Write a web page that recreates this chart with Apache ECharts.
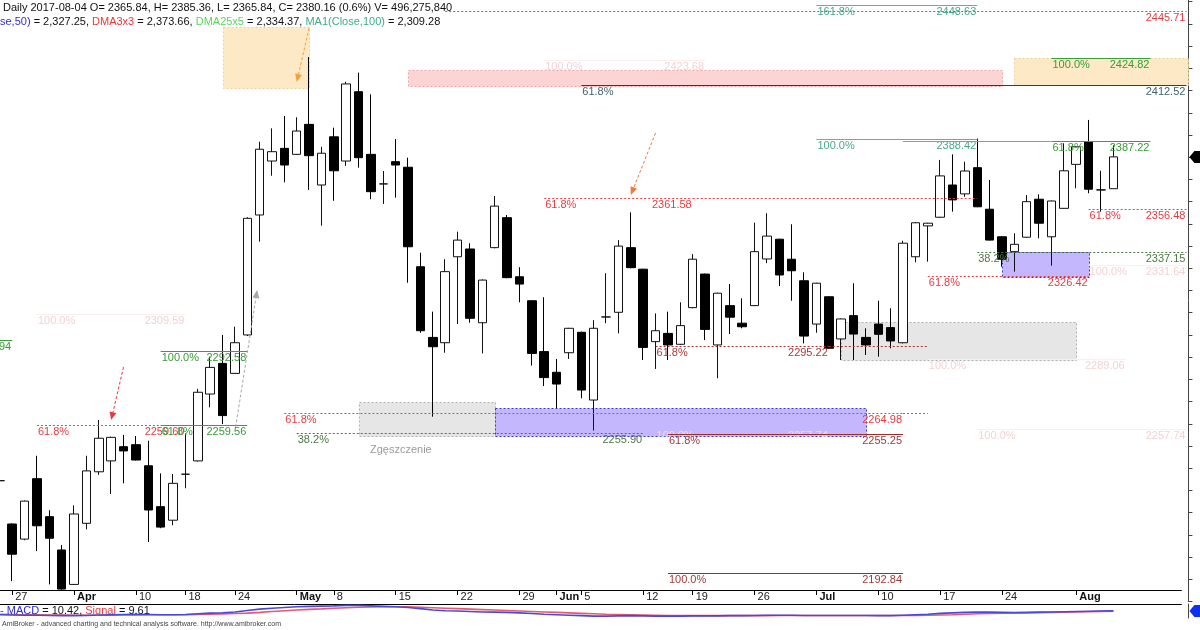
<!DOCTYPE html>
<html><head><meta charset="utf-8">
<script src="https://cdn.jsdelivr.net/npm/echarts@6/dist/echarts.min.js"></script>
<style>html,body{margin:0;padding:0;background:#fff}#c{width:1200px;height:630px}</style>
</head><body><div id="c"></div>
<script>
// ---------- DATA ----------
const dates = ['2017-03-24','2017-03-27','2017-03-28','2017-03-29','2017-03-30','2017-03-31','2017-04-03','2017-04-04','2017-04-05','2017-04-06','2017-04-07','2017-04-10','2017-04-11','2017-04-12','2017-04-13','2017-04-18','2017-04-19','2017-04-20','2017-04-21','2017-04-24','2017-04-25','2017-04-26','2017-04-27','2017-04-28','2017-05-02','2017-05-04','2017-05-05','2017-05-08','2017-05-09','2017-05-10','2017-05-11','2017-05-12','2017-05-15','2017-05-16','2017-05-17','2017-05-18','2017-05-19','2017-05-22','2017-05-23','2017-05-24','2017-05-25','2017-05-26','2017-05-29','2017-05-30','2017-05-31','2017-06-01','2017-06-02','2017-06-05','2017-06-06','2017-06-07','2017-06-08','2017-06-09','2017-06-12','2017-06-13','2017-06-14','2017-06-16','2017-06-19','2017-06-20','2017-06-21','2017-06-22','2017-06-23','2017-06-26','2017-06-27','2017-06-28','2017-06-29','2017-06-30','2017-07-03','2017-07-04','2017-07-05','2017-07-06','2017-07-07','2017-07-10','2017-07-11','2017-07-12','2017-07-13','2017-07-14','2017-07-17','2017-07-18','2017-07-19','2017-07-20','2017-07-21','2017-07-24','2017-07-25','2017-07-26','2017-07-27','2017-07-28','2017-07-31','2017-08-01','2017-08-02','2017-08-03','2017-08-04'];
const futureDates = ['2017-08-07','2017-08-08','2017-08-09','2017-08-10','2017-08-11'];

const open = [
 2234.4,2214.9,2208.1,2235.3,2218.2,2203.2,2187.7,2215.2,2238.4,2243.3,
 2249.7,2250.6,2241.1,2222.7,2216.6,2237.3,2243.3,2273.4,2287.2,2282.7,
 2300.0,2354.0,2378.3,2384.0,2381.3,2394.8,2367.5,2389.2,2378.3,2409.5,
 2381.3,2368.0,2378.0,2375.5,2330.7,2298.9,2296.5,2335.2,2338.7,2305.5,
 2339.3,2352.8,2326.2,2315.4,2292.5,2283.2,2292.0,2301.2,2270.7,2308.1,
 2310.2,2339.3,2329.6,2297.0,2300.7,2295.8,2312.3,2327.4,2295.5,2313.2,
 2305.3,2313.2,2334.2,2343.1,2334.1,2324.4,2304.9,2317.2,2298.2,2308.7,
 2298.9,2304.9,2303.3,2296.5,2335.2,2349.1,2353.0,2367.5,2363.5,2375.3,
 2356.6,2344.2,2337.5,2344.0,2361.1,2344.2,2357.0,2376.8,2387.0,2365.3,
 2365.84];
const high = [
 2240.0,2215.2,2225.5,2245.6,2221.1,2205.4,2223.3,2245.6,2261.7,2254.2,
 2255.0,2254.5,2252.4,2237.7,2237.4,2255.7,2275.7,2290.2,2300.0,2303.7,
 2353.0,2387.0,2393.0,2398.6,2398.0,2425.1,2384.7,2393.3,2414.0,2418.1,
 2408.3,2373.8,2388.2,2379.8,2337.0,2310.5,2334.1,2346.5,2341.3,2325.0,
 2362.6,2354.0,2330.5,2315.6,2317.0,2289.2,2303.2,2301.5,2306.7,2327.8,
 2342.7,2355.2,2329.8,2309.7,2310.5,2314.7,2336.4,2327.6,2319.0,2322.9,
 2316.5,2350.5,2354.8,2343.3,2349.8,2328.2,2323.5,2317.4,2307.4,2323.3,
 2303.0,2315.4,2312.0,2342.4,2350.8,2350.5,2378.8,2381.3,2378.0,2388.4,
 2369.8,2344.5,2345.8,2363.0,2363.3,2360.5,2386.3,2385.0,2396.8,2373.9,
 2385.36];
const low = [
 2228.0,2189.2,2207.6,2202.7,2187.7,2185.3,2187.5,2212.5,2237.0,2228.4,
 2233.2,2243.5,2206.8,2213.0,2214.3,2231.0,2243.0,2267.4,2259.9,2282.5,
 2299.5,2342.0,2371.7,2368.7,2381.0,2365.3,2349.2,2360.4,2376.1,2375.3,
 2361.1,2359.0,2361.8,2323.5,2301.0,2263.2,2292.0,2304.9,2305.5,2291.7,
 2339.0,2325.5,2314.7,2286.2,2277.0,2267.0,2289.2,2271.5,2257.0,2305.3,
 2300.7,2330.0,2288.7,2284.7,2288.7,2295.5,2312.0,2297.7,2280.5,2300.4,
 2303.0,2313.0,2332.3,2322.0,2315.4,2296.2,2301.0,2293.8,2288.7,2288.7,
 2291.0,2290.2,2294.0,2296.2,2332.7,2333.0,2352.7,2355.5,2362.2,2357.5,
 2342.5,2330.7,2328.5,2343.8,2343.5,2331.2,2356.8,2366.0,2363.8,2355.5,
 2365.84];
const close = [
 2234.4,2201.3,2225.2,2214.1,2208.5,2185.6,2219.4,2238.8,2253.5,2253.9,
 2247.8,2243.7,2221.2,2213.5,2233.2,2237.3,2274.2,2285.4,2263.7,2296.5,
 2352.5,2383.6,2382.5,2376.5,2391.8,2380.7,2381.8,2373.9,2413.0,2379.8,
 2364.5,2368.0,2376.5,2339.7,2301.9,2294.7,2328.5,2342.7,2307.5,2324.7,
 2358.0,2325.8,2322.9,2291.7,2280.8,2277.9,2303.0,2275.2,2303.0,2308.1,
 2340.0,2330.3,2294.4,2301.9,2295.5,2304.2,2334.1,2302.5,2318.8,2308.0,
 2303.7,2337.5,2344.5,2327.0,2328.9,2299.5,2323.3,2294.0,2307.2,2300.4,
 2295.5,2300.3,2297.3,2341.3,2350.5,2350.3,2371.6,2360.8,2373.8,2357.7,
 2342.7,2334.1,2340.8,2360.0,2350.3,2360.3,2373.9,2384.7,2365.6,2365.3,
 2380.16];

const macd = [
 -6,-7,-8,-8,-9,-10,-10,-9,-7,-6,
 -5,-4,-5,-6,-6,-5,-2,1,2,6,
 12,18,22,25,28,30,31,32,34,34,
 32,30,28,25,20,14,11,10,8,6,
 5,4,2,-1,-4,-6,-8,-10,-12,-12,
 -11,-10,-11,-12,-12,-12,-11,-11,-11,-10,
 -10,-9,-8,-8,-8,-9,-9,-9,-9,-9,
 -9,-10,-10,-8,-6,-4,0,2,4,5,
 5,4,3,4,5,6,7,8,9,10,
 10.42];
const signal = [
 -4,-5,-6,-6,-7,-7,-8,-8,-8,-8,
 -7,-7,-6,-6,-6,-6,-5,-4,-3,-1,
 1,4,8,11,14,17,19,22,24,26,
 27,28,28,28,26,24,22,20,18,16,
 14,12,10,8,6,4,2,0,-2,-4,
 -5,-6,-7,-8,-9,-10,-10,-10,-10,-10,
 -10,-10,-10,-9,-9,-9,-9,-9,-9,-9,
 -9,-9,-9,-9,-9,-8,-7,-6,-4,-2,
 0,1,2,2,3,4,5,6,7,8.5,
 9.61];

const tickLabels = {'2017-03-27':'27','2017-04-03':'Apr','2017-04-10':'10','2017-04-18':'18','2017-04-24':'24','2017-05-02':'May','2017-05-08':'8','2017-05-15':'15','2017-05-22':'22','2017-05-29':'29','2017-06-01':'Jun','2017-06-05':'5','2017-06-12':'12','2017-06-19':'19','2017-06-26':'26','2017-07-03':'Jul','2017-07-10':'10','2017-07-17':'17','2017-07-24':'24','2017-08-01':'Aug'};
const monthNames = ['Apr','May','Jun','Jul','Aug'];

// [price, fromDate, toDate|'edge', leftText, rightText, kind]
const fibLevels = [
 [2448.63,'2017-07-03','2017-07-20','161.8%','2448.63','teal'],
 [2445.71,'2017-05-19','edge','','2445.71','red'],
 [2424.82,'2017-07-28','2017-08-09','100.0%','2424.82','green'],
 [2423.68,'2017-05-31','2017-06-20','100.0%','2423.68','faint'],
 [2412.52,'2017-06-05','edge','61.8%','2412.52','slate'],
 [2388.42,'2017-07-03','2017-07-20','100.0%','2388.42','teal'],
 [2387.50,'2017-07-12','2017-07-28','','','magenta'],
 [2387.22,'2017-07-28','2017-08-09','61.8%','2387.22','green'],
 [2361.58,'2017-05-31','2017-06-19','61.8%','2361.58','red'],
 [2361.58,'2017-06-19','2017-07-20','','','red'],
 [2356.48,'2017-08-02','edge','61.8%','2356.48','red'],
 [2337.15,'2017-07-20','edge','38.2%','2337.15','olive'],
 [2331.64,'2017-08-02','edge','100.0%','2331.64','faint'],
 [2326.42,'2017-07-14','2017-08-02','61.8%','2326.42','red'],
 [2309.59,'2017-03-29','2017-04-18','100.0%','2309.59','faint'],
 [2297.94,'2017-03-24','2017-03-27','','2297.94','green'],
 [2295.22,'2017-06-13','2017-07-04','61.8%','2295.22','maroon'],
 [2295.22,'2017-07-04','2017-07-14','','','maroon'],
 [2292.58,'2017-04-12','2017-04-25','100.0%','2292.58','green'],
 [2289.06,'2017-07-14','2017-08-07','100.0%','2289.06','faint'],
 [2264.98,'2017-04-28','2017-07-12','61.8%','2264.98','red'],
 [2264.98,'2017-07-12','2017-07-14','','','red'],
 [2259.60,'2017-03-29','2017-04-18','61.8%','2259.60','red'],
 [2259.56,'2017-04-12','2017-04-25','61.8%','2259.56','green'],
 [2257.74,'2017-07-20','edge','100.0%','2257.74','faint'],
 [2257.74,'2017-06-13','2017-07-04','100.0%','2257.74','ghost'],
 [2255.90,'2017-05-02','2017-06-12','38.2%','2255.90','olive'],
 [2255.25,'2017-06-14','2017-07-12','61.8%','2255.25','maroonSolid'],
 [2192.84,'2017-06-14','2017-07-12','100.0%','2192.84','maroonSolid']
];

// [fromDate, toDate|'edge', topPrice, bottomPrice, kind]
const zones = [
 ['2017-04-21','2017-05-04',2438.6,2411.2,'orange'],
 ['2017-05-16','2017-07-24',2419.3,2412.1,'pink'],
 ['2017-07-25','edge',2424.82,2412.52,'orange'],
 ['2017-07-24','2017-08-02',2337.15,2326.0,'purple'],
 ['2017-07-05','2017-08-01',2305.7,2288.5,'gray'],
 ['2017-05-10','2017-05-25',2269.9,2254.3,'gray'],
 ['2017-05-25','2017-07-07',2267.0,2254.3,'purple']
];

// [[fromDate, price, dayOffset], [toDate, price, dayOffset], kind]
const arrows = [
 [['2017-04-07',2285.6,0],['2017-04-06',2261.7,0],'red'],
 [['2017-05-04',2438.2,0],['2017-05-02',2413.9,0],'orange'],
 [['2017-06-13',2390.9,0],['2017-06-09',2363.0,0],'orangeRed'],
 [['2017-04-24',2256.3,0],['2017-04-25',2320.2,0.8],'gray']
];

const notes = [['2017-05-11',2248.2,'Zgęszczenie']];

const volumeText = '496,275,840';
const changeText = '(0.6%)';
const indicators = [['se,50)','2,327.25','b'],['DMA3x3','2,373.66','r'],['DMA25x5','2,334.37','g'],['MA1(Close,100)','2,309.28','t']];
const macdLabel = ['MACD','10.42','Signal','9.61'];
const footer = 'AmiBroker - advanced charting and technical analysis software. http://www.amibroker.com';

// ---------- STYLES ----------
const FONT = '"Liberation Sans", Arial, sans-serif';
const kindStyle = {
 red:{line:'#e8454a',text:'#e53c41',dash:[2,2]},
 maroon:{line:'#a23535',text:'#a83a3a',dash:[2,2]},
 maroonSolid:{line:'#9b2d2d',text:'#a33a3a',dash:null},
 green:{line:'#3aa03a',text:'#3a9a3a',dash:null},
 olive:{line:'#4e7a45',text:'#4e7a45',dash:[2,2]},
 teal:{line:'#55b89e',text:'#4aa88c',dash:null},
 slate:{line:'#2f3f44',text:'#3b6470',dash:null},
 magenta:{line:'#d86ad8',text:'#d86ad8',dash:null},
 faint:{line:'#fbeeee',text:'#f3d3d3',dash:null},
 ghost:{line:null,text:'rgba(255,255,255,0.6)',dash:null}
};
const zoneStyle = {
 orange:{fill:'#fde9c6',stroke:'#ecd09c'},
 pink:{fill:'#fdd4d4',stroke:'#f0a4a4'},
 purple:{fill:'#c4b7fe',stroke:'#3b3bc8'},
 gray:{fill:'#e6e6e6',stroke:'#b0b0b0'}
};
const arrowColor = {red:'#e8393e',orange:'#f2a33a',orangeRed:'#f07a3a',gray:'#a8a8a8'};

const allDates = dates.concat(futureDates);
const dateIndex = {}; allDates.forEach((d,i)=>{dateIndex[d]=i;});
const xi = (d,off)=>dateIndex[d]+(off||0);
const crisp = v=>Math.round(v)+0.5;
const edgeX = cs=>cs.x+cs.width+5;

const frontItems = [];
fibLevels.forEach(f=>frontItems.push({t:'fib',f}));
arrows.forEach(a=>frontItems.push({t:'arrow',a}));
notes.forEach(n=>frontItems.push({t:'note',n}));
frontItems.push({t:'marker'});

function renderBack(params, api){
  const [a,b,pt,pb,k] = zones[params.dataIndex];
  const cs = params.coordSys, st = zoneStyle[k];
  const x1 = crisp(api.coord([xi(a),pt])[0]);
  const x2 = crisp(b==='edge' ? cs.x+cs.width+7 : api.coord([xi(b),pt])[0]);
  const y1 = crisp(api.coord([0,pt])[1]);
  const y2 = crisp(api.coord([0,pb])[1]);
  return {type:'rect',shape:{x:x1,y:y1,width:x2-x1,height:y2-y1},style:{fill:st.fill,stroke:st.stroke,lineWidth:1,lineDash:[2,2]}};
}

function renderFront(params, api){
  const it = frontItems[params.dataIndex];
  const cs = params.coordSys;
  if (it.t==='fib'){
    const [p,a,b,lt,rt,k] = it.f; const st = kindStyle[k];
    const y = crisp(api.coord([0,p])[1]);
    const x1 = api.coord([xi(a),p])[0];
    const x2 = b==='edge' ? edgeX(cs) : api.coord([xi(b),p])[0];
    const ch = [];
    if (st.line) ch.push({type:'line',shape:{x1:x1,y1:y,x2:x2,y2:y},style:{stroke:st.line,lineWidth:1,lineDash:st.dash}});
    if (lt) ch.push({type:'text',style:{text:lt,x:x1+1,y:y+1,fill:st.text,font:'11px '+FONT,align:'left',verticalAlign:'top'}});
    if (rt) ch.push({type:'text',style:{text:rt,x:x2-1,y:y+1,fill:st.text,font:'11px '+FONT,align:'right',verticalAlign:'top'}});
    return {type:'group',children:ch};
  }
  if (it.t==='arrow'){
    const [f,t,k] = it.a; const c = arrowColor[k];
    const p1 = api.coord([xi(f[0],f[2]),f[1]]);
    const p2 = api.coord([xi(t[0],t[2]),t[1]]);
    const ang = Math.atan2(p2[1]-p1[1],p2[0]-p1[0]);
    const L=8, W=3.5;
    const bx = p2[0]-L*Math.cos(ang), by = p2[1]-L*Math.sin(ang);
    return {type:'group',children:[
      {type:'line',shape:{x1:p1[0],y1:p1[1],x2:bx,y2:by},style:{stroke:c,lineWidth:1,lineDash:[3,2]}},
      {type:'polygon',shape:{points:[[p2[0],p2[1]],[bx+W*Math.sin(ang),by-W*Math.cos(ang)],[bx-W*Math.sin(ang),by+W*Math.cos(ang)]]},style:{fill:c}}
    ]};
  }
  if (it.t==='note'){
    const [d,p,txt] = it.n; const pt = api.coord([xi(d),p]);
    return {type:'text',style:{text:txt,x:pt[0]-1,y:pt[1],fill:'#9a9a9a',font:'11px '+FONT,align:'left',verticalAlign:'middle'}};
  }
  // last close marker on the price axis
  const y = api.coord([0,close[close.length-1]])[1];
  const x0 = cs.x+cs.width+7;
  return {type:'polygon',shape:{points:[[x0+1,y],[x0+6,y-6],[x0+13,y-6],[x0+13,y+6],[x0+6,y+6]]},style:{fill:'#000'}};
}

function renderMacdMarker(params, api){
  const cs = params.coordSys;
  const y = api.coord([macd.length-1, macd[macd.length-1]])[1];
  const x0 = cs.x+cs.width+7;
  return {type:'polygon',shape:{points:[[x0+1,y],[x0+6,y-6],[x0+13,y-6],[x0+13,y+6],[x0+6,y+6]]},style:{fill:'#1030f0'}};
}

const last = dates.length-1;
const headerLine = `Daily ${dates[last]} O= ${open[last]}, H= ${high[last]}, L= ${low[last]}, C= ${close[last]} ${changeText} V= ${volumeText}`;
const indLine = indicators.map((d,i)=>`{${d[2]}|${d[0]}}{k| = ${d[1]}${i<indicators.length-1?', ':''}}`).join('');

const GL = -6.39, GW = 1187.8;
const labelInterval = (i,v)=>!!tickLabels[v];

const option = {
  animation:false,
  backgroundColor:'#fff',
  textStyle:{fontFamily:FONT},
  title:[
    {text:headerLine,left:3,top:1,padding:0,textStyle:{fontSize:11,fontWeight:'normal',color:'#111',fontFamily:FONT,lineHeight:13}},
    {text:indLine,left:0,top:15,padding:0,textStyle:{fontSize:11,fontWeight:'normal',color:'#111',fontFamily:FONT,lineHeight:13,
      rich:{b:{color:'#3030cc',fontSize:11},r:{color:'#f03535',fontSize:11},g:{color:'#5ad85a',fontSize:11},t:{color:'#3faa88',fontSize:11},k:{color:'#111',fontSize:11}}}},
    {text:`{b|- ${macdLabel[0]}}{k| = ${macdLabel[1]}, }{r|${macdLabel[2]}}{k| = ${macdLabel[3]}}`,left:0,top:605,padding:0,
      textStyle:{fontSize:11,fontWeight:'normal',fontFamily:FONT,lineHeight:12,rich:{b:{color:'#2a2ad8',fontSize:11},r:{color:'#e83a3a',fontSize:11},k:{color:'#111',fontSize:11}}}},
    {text:footer,left:2,top:621,padding:0,textStyle:{fontSize:7,fontWeight:'normal',color:'#444',fontFamily:FONT}}
  ],
  grid:[
    {left:GL,width:GW,top:-20.47,height:621.99,outerBoundsMode:'none',containLabel:false},
    {left:GL,width:GW,top:0,height:590,outerBoundsMode:'none',containLabel:false},
    {left:GL,width:GW,top:604,height:14,outerBoundsMode:'none',containLabel:false}
  ],
  xAxis:[
    {gridIndex:0,type:'category',data:allDates,show:false,boundaryGap:true,axisLine:{onZero:false}},
    {gridIndex:0,type:'value',min:-0.5,max:allDates.length-0.5,show:false,axisLine:{onZero:false}},
    {gridIndex:1,type:'category',data:allDates,boundaryGap:true,
      axisLine:{show:true,onZero:false,lineStyle:{color:'#000',width:1}},
      axisTick:{show:true,alignWithLabel:true,interval:labelInterval,length:5,lineStyle:{color:'#000'}},
      axisLabel:{show:true,interval:labelInterval,align:'left',margin:1,padding:[0,0,0,3],color:'#222',fontSize:11,fontFamily:FONT,
        formatter:v=>{const t=tickLabels[v]; if(!t) return ''; return monthNames.includes(t)?'{m|'+t+'}':t;},
        rich:{m:{fontWeight:'bold',fontSize:11,color:'#111',fontFamily:FONT}}},
      splitLine:{show:false}},
    {gridIndex:2,type:'category',data:allDates,position:'top',boundaryGap:true,
      axisLine:{show:true,onZero:false,lineStyle:{color:'#000'}},axisTick:{show:false},axisLabel:{show:false},splitLine:{show:false}}
  ],
  yAxis:[
    {gridIndex:0,type:'value',position:'right',offset:7,min:2180,max:2460,interval:10,
      axisLine:{show:true,onZero:false,lineStyle:{color:'#444'}},axisTick:{show:true,length:4,lineStyle:{color:'#444'}},
      axisLabel:{show:false},splitLine:{show:false}},
    {gridIndex:1,type:'value',show:false,axisLine:{onZero:false}},
    {gridIndex:2,type:'value',position:'right',offset:7,min:-20,max:40,
      axisLine:{show:true,onZero:false,lineStyle:{color:'#444'}},axisTick:{show:false},axisLabel:{show:false},splitLine:{show:false}}
  ],
  series:[
    {type:'custom',name:'zones',xAxisIndex:1,yAxisIndex:0,z:1,silent:true,renderItem:renderBack,
      data:zones.map(z=>[xi(z[0]),z[2]])},
    {type:'candlestick',name:'price',xAxisIndex:0,yAxisIndex:0,z:3,barWidth:9,
      data:dates.map((d,i)=>[open[i],close[i],low[i],high[i]]),
      itemStyle:{color:'#ffffff',color0:'#000000',borderColor:'#111111',borderColor0:'#000000',borderWidth:1}},
    {type:'custom',name:'fib',xAxisIndex:1,yAxisIndex:0,z:5,silent:true,renderItem:renderFront,
      data:frontItems.map(()=>[0,2300])},
    {type:'line',name:'MACD',xAxisIndex:3,yAxisIndex:2,data:macd,showSymbol:false,lineStyle:{color:'#4848e0',width:1.6},z:3},
    {type:'line',name:'Signal',xAxisIndex:3,yAxisIndex:2,data:signal,showSymbol:false,lineStyle:{color:'#e65a6a',width:1.6},z:2},
    {type:'custom',name:'macdMarker',xAxisIndex:3,yAxisIndex:2,z:6,silent:true,renderItem:renderMacdMarker,data:[[last,macd[last]]]}
  ]
};
const chart = echarts.init(document.getElementById('c'),null,{renderer:'canvas',width:1200,height:630});
chart.setOption(option);
</script>
</body></html>
